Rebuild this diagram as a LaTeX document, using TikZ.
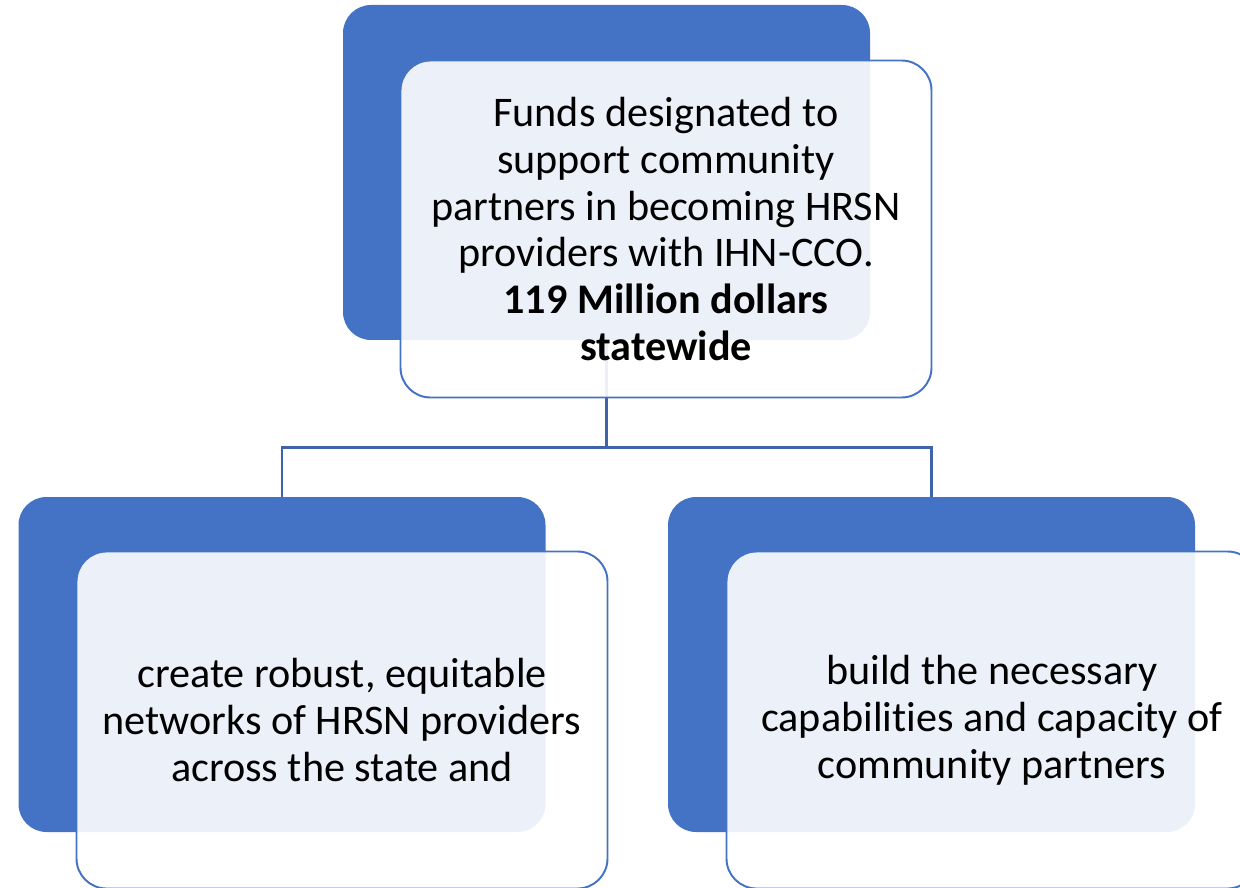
\documentclass[tikz,border=0pt]{standalone}
\usepackage{fontspec}
\setmainfont[Ligatures=NoCommon]{Carlito}
\definecolor{boxblue}{HTML}{4472C4}
\definecolor{lineblue}{HTML}{3F64AC}
\tikzset{
  backbox/.style={fill=boxblue, rounded corners=0.56cm, minimum width=10.54cm, minimum height=6.7cm, inner sep=0pt},
  frontbox/.style={draw=boxblue, line width=1.1pt, fill=white, fill opacity=0.9, text opacity=1, rounded corners=0.6cm,
    minimum width=10.62cm, minimum height=6.74cm, inner sep=0pt, align=center, font=\fontsize{24}{26.7}\selectfont},
  conn/.style={draw=lineblue, line width=1.4pt}
}
\begin{document}
\begin{tikzpicture}
            \clip (0,0) rectangle (24.8,-17.76);
            \node[backbox] (topback) at (12.13,-3.45) {};
            \node[backbox] (leftback) at (5.64,-13.29) {};
            \node[backbox] (rightback) at (18.63,-13.29) {};
            \draw[conn] (topback.south) -- ++(0,-2.14) -| (leftback.north);
            \draw[conn] (topback.south) -- ++(0,-2.14) -| (rightback.north);
            \node[frontbox] (topfront) at (13.32,-4.58) {Funds designated to\\ support community\\ partners in becoming HRSN\\ providers with IHN-CCO.\\ \textbf{119 Million dollars}\\ \textbf{statewide}};
            \node[frontbox] (leftfront) at (6.84,-14.40) {create robust, equitable\\ networks of HRSN providers\\ across the state and};
            \node[frontbox] (rightfront) at (19.84,-14.40) {build the necessary\\ capabilities and capacity of\\ community partners};
        \end{tikzpicture}
\end{document}
